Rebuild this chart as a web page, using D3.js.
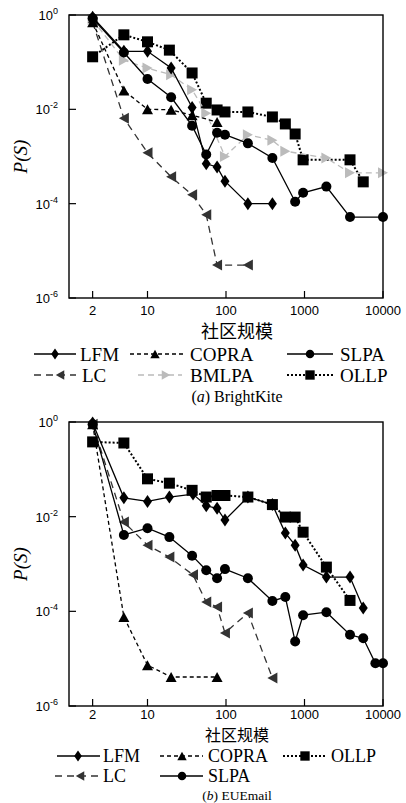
<!DOCTYPE html>
<html>
<head>
<meta charset="utf-8">
<script src="https://cdn.jsdelivr.net/npm/d3@7"></script>
<style>
  body { margin: 0; background: #fff; }
</style>
</head>
<body>
<div class="canvas"></div>
<script>
// tick values
const xTicks = [2, 10, 100, 1000, 10000]
const yTicks = [1, 1e-2, 1e-4, 1e-6]
const yTickExp = ['0', '-2', '-4', '-6']

// (a) BrightKite: [community size, P(S)]
const bkLFM = [[2, 0.9], [5, 0.17], [10, 0.17], [20, 0.075], [37, 0.011], [56, 0.0007], [77, 0.0006], [97, 0.0003], [190, 0.0001], [390, 0.0001]]
const bkCOPRA = [[2, 0.7], [5, 0.025], [10, 0.01], [20, 0.0098], [37, 0.0075], [77, 0.0054]]
const bkSLPA = [[2, 0.85], [5, 0.16], [10, 0.044], [20, 0.018], [37, 0.0045], [56, 0.0011], [77, 0.0032], [97, 0.0029], [190, 0.0019], [390, 0.00093], [760, 0.00011], [960, 0.00017], [1900, 0.00023], [3800, 0.000052], [10000, 0.000052]]
const bkLC = [[2, 0.7], [5, 0.0065], [10, 0.0012], [20, 0.00037], [37, 0.000155], [56, 0.000058], [77, 0.000005], [190, 0.000005]]
const bkBMLPA = [[2, 0.8], [5, 0.11], [10, 0.075], [20, 0.054], [37, 0.026], [56, 0.0083], [97, 0.001], [190, 0.0029], [390, 0.0022], [570, 0.0013], [1900, 0.00093], [3800, 0.00045], [10000, 0.00045]]
const bkOLLP = [[2, 0.13], [5, 0.38], [10, 0.27], [19, 0.18], [37, 0.059], [56, 0.0135], [77, 0.0097], [97, 0.0088], [190, 0.0088], [390, 0.0069], [570, 0.0049], [760, 0.003], [960, 0.00085], [3800, 0.00085], [5600, 0.00029]]

// (b) EUEmail
const euLFM = [[2, 0.95], [5, 0.025], [10, 0.021], [19, 0.026], [38, 0.03], [56, 0.017], [77, 0.015], [97, 0.0085], [190, 0.026], [390, 0.018], [570, 0.0045], [760, 0.0025], [960, 0.00095], [1900, 0.00053], [3800, 0.00053], [5600, 0.000117]]
const euCOPRA = [[2, 0.9], [5, 0.000076], [10, 0.0000073], [20, 0.0000041], [77, 0.0000041]]
const euOLLP = [[2, 0.38], [5, 0.36], [10, 0.063], [19, 0.051], [37, 0.036], [56, 0.026], [77, 0.028], [97, 0.028], [190, 0.026], [390, 0.018], [570, 0.0098], [760, 0.0098], [960, 0.0047], [1900, 0.00086], [3800, 0.00017]]
const euLC = [[2, 0.9], [5, 0.0077], [10, 0.0025], [19, 0.0014], [38, 0.00059], [56, 0.000158], [77, 0.000123], [97, 0.000035], [190, 0.000092], [390, 0.0000039]]
const euSLPA = [[2, 0.9], [5, 0.0041], [10, 0.0057], [19, 0.0037], [37, 0.0015], [56, 0.00074], [77, 0.0005], [97, 0.00078], [190, 0.0005], [390, 0.000166], [570, 0.0002], [760, 0.000023], [960, 0.000083], [1900, 0.000096], [3800, 0.000032], [5600, 0.000027], [8000, 0.000008], [10000, 0.000008]]

const styles = {
  LFM:   { stroke: '#000', dash: null,  marker: 'diamond', fill: '#000' },
  COPRA: { stroke: '#000', dash: '4,3', marker: 'up',      fill: '#000' },
  SLPA:  { stroke: '#000', dash: null,  marker: 'circle',  fill: '#000' },
  LC:    { stroke: '#333', dash: '7,5', marker: 'left',    fill: '#333' },
  BMLPA: { stroke: '#bbb', dash: '6,4', marker: 'right',   fill: '#bbb' },
  OLLP:  { stroke: '#000', dash: '2,2', marker: 'square',  fill: '#000', width: 2 }
}

function markerPath(type, k) {
  if (type === 'square') { const s = 11 * k; return `M${-s/2},${-s/2}h${s}v${s}h${-s}Z` }
  if (type === 'diamond') { const w = 4.5 * k, h = 6.5 * k; return `M0,${-h}L${w},0L0,${h}L${-w},0Z` }
  if (type === 'up') { const w = 5.5 * k, h = 5 * k; return `M0,${-h}L${w},${h}L${-w},${h}Z` }
  if (type === 'left') { const w = 5 * k, h = 5.5 * k; return `M${-w},0L${w},${-h}L${w},${h}Z` }
  if (type === 'right') { const w = 5 * k, h = 5.5 * k; return `M${w},0L${-w},${-h}L${-w},${h}Z` }
  const r = 5 * k
  return `M${r},0A${r},${r} 0 1,1 ${-r},0A${r},${r} 0 1,1 ${r},0Z`
}

const svg = d3.select('.canvas')
  .append('svg')
    .attr('width', 406)
    .attr('height', 803)

const plotLeft = 69
const plotRight = 383

const x = d3.scaleLog()
  .domain([1, 10000])
  .range([plotLeft, plotRight])

function drawPanel(top, bottom, series, legend, lay) {
  const y = d3.scaleLog()
    .domain([1e-6, 1])
    .range([bottom, top])

  const g = svg.append('g')

  // ticks (inward)
  g.selectAll('.xt')
    .data(xTicks)
    .enter().append('line')
      .attr('x1', d => x(d)).attr('x2', d => x(d))
      .attr('y1', bottom).attr('y2', bottom - 7)
      .attr('stroke', '#000').attr('stroke-width', 1.2)

  g.selectAll('.yt')
    .data(yTicks)
    .enter().append('line')
      .attr('x1', plotLeft).attr('x2', plotLeft + 7)
      .attr('y1', d => y(d)).attr('y2', d => y(d))
      .attr('stroke', '#000').attr('stroke-width', 1.2)

  g.selectAll('.xl')
    .data(xTicks)
    .enter().append('text')
      .attr('x', d => x(d))
      .attr('y', bottom + lay.tickDy)
      .attr('text-anchor', 'middle')
      .attr('font-family', 'Liberation Sans, Arial, sans-serif')
      .attr('font-size', 13)
      .text(d => d)

  const yl = g.selectAll('.yl')
    .data(yTicks)
    .enter().append('text')
      .attr('x', plotLeft - 11)
      .attr('y', d => y(d) + 5)
      .attr('text-anchor', 'end')
      .attr('font-family', 'Liberation Sans, Arial, sans-serif')
      .attr('font-size', 13)
  yl.append('tspan').text('10')
  yl.append('tspan')
    .attr('dy', -6)
    .attr('font-size', 9)
    .text((d, i) => yTickExp[i])

  // series
  series.forEach(s => {
    const st = styles[s.name]
    const line = d3.line()
      .x(d => x(d[0]))
      .y(d => y(d[1]))
    g.append('path')
      .datum(s.data)
      .attr('d', line)
      .attr('fill', 'none')
      .attr('stroke', st.stroke)
      .attr('stroke-width', st.width || 1.3)
      .attr('stroke-dasharray', st.dash)
    g.selectAll(null)
      .data(s.data)
      .enter().append('path')
        .attr('d', markerPath(st.marker, 1))
        .attr('transform', d => `translate(${x(d[0])},${y(d[1])})`)
        .attr('fill', st.fill)
  })

  // frame
  g.append('rect')
    .attr('x', plotLeft).attr('y', top)
    .attr('width', plotRight - plotLeft).attr('height', bottom - top)
    .attr('fill', 'none').attr('stroke', '#000').attr('stroke-width', 1.4)

  // axis titles
  g.append('text')
    .attr('transform', `translate(27, ${(top + bottom) / 2}) rotate(-90)`)
    .attr('text-anchor', 'middle')
    .attr('font-family', 'Liberation Serif, Times New Roman, serif')
    .attr('font-style', 'italic')
    .attr('font-size', 19)
    .text('P(S)')

  g.append('text')
    .attr('x', 237)
    .attr('y', bottom + lay.titleDy)
    .attr('text-anchor', 'middle')
    .attr('font-family', 'Noto Sans CJK SC, sans-serif')
    .attr('font-size', lay.titleSize)
    .text('社区规模')

  // legend
  legend.forEach(l => {
    const st = styles[l.name]
    const ly = bottom + l.dy
    g.append('line')
      .attr('x1', l.x1).attr('x2', l.x2)
      .attr('y1', ly).attr('y2', ly)
      .attr('stroke', st.stroke)
      .attr('stroke-width', st.width || 1.3)
      .attr('stroke-dasharray', st.dash)
    g.append('path')
      .attr('d', markerPath(st.marker, 0.85))
      .attr('transform', `translate(${l.mx},${ly})`)
      .attr('fill', st.fill)
    g.append('text')
      .attr('x', l.tx)
      .attr('y', ly + 0.36 * lay.legendSize)
      .attr('font-family', 'Liberation Serif, Times New Roman, serif')
      .attr('font-size', lay.legendSize)
      .text(l.name)
  })

  const cap = g.append('text')
    .attr('x', 237)
    .attr('y', bottom + lay.capDy)
    .attr('text-anchor', 'middle')
    .attr('font-family', 'Liberation Serif, Times New Roman, serif')
    .attr('font-size', lay.capSize)
  cap.append('tspan').text('(')
  cap.append('tspan').attr('font-style', 'italic').text(lay.letter)
  cap.append('tspan').text(') ' + lay.name)
}

drawPanel(15, 298, [
  { name: 'OLLP', data: bkOLLP },
  { name: 'BMLPA', data: bkBMLPA },
  { name: 'LC', data: bkLC },
  { name: 'COPRA', data: bkCOPRA },
  { name: 'SLPA', data: bkSLPA },
  { name: 'LFM', data: bkLFM }
], [
  { name: 'LFM', dy: 56, x1: 34, x2: 76, mx: 55, tx: 80 },
  { name: 'COPRA', dy: 56, x1: 130, x2: 183, mx: 155, tx: 190 },
  { name: 'SLPA', dy: 56, x1: 287, x2: 333, mx: 310, tx: 340 },
  { name: 'LC', dy: 77, x1: 34, x2: 76, mx: 60, tx: 82 },
  { name: 'BMLPA', dy: 77, x1: 138, x2: 182, mx: 166, tx: 190 },
  { name: 'OLLP', dy: 77, x1: 287, x2: 333, mx: 310, tx: 340 }
], { letter: 'a', name: 'BrightKite', capDy: 104, capSize: 16, tickDy: 17, titleDy: 40, titleSize: 18, legendSize: 19 })

drawPanel(422, 706, [
  { name: 'OLLP', data: euOLLP },
  { name: 'LC', data: euLC },
  { name: 'COPRA', data: euCOPRA },
  { name: 'SLPA', data: euSLPA },
  { name: 'LFM', data: euLFM }
], [
  { name: 'LFM', dy: 50, x1: 57, x2: 100, mx: 78, tx: 103 },
  { name: 'COPRA', dy: 50, x1: 160, x2: 203, mx: 182, tx: 208 },
  { name: 'OLLP', dy: 50, x1: 283, x2: 327, mx: 305, tx: 331 },
  { name: 'LC', dy: 70, x1: 55, x2: 100, mx: 80, tx: 103 },
  { name: 'SLPA', dy: 70, x1: 160, x2: 203, mx: 182, tx: 208 }
], { letter: 'b', name: 'EUEmail', capDy: 94, capSize: 13.5, tickDy: 13, titleDy: 35, titleSize: 16, legendSize: 18 })
</script>
</body>
</html>
